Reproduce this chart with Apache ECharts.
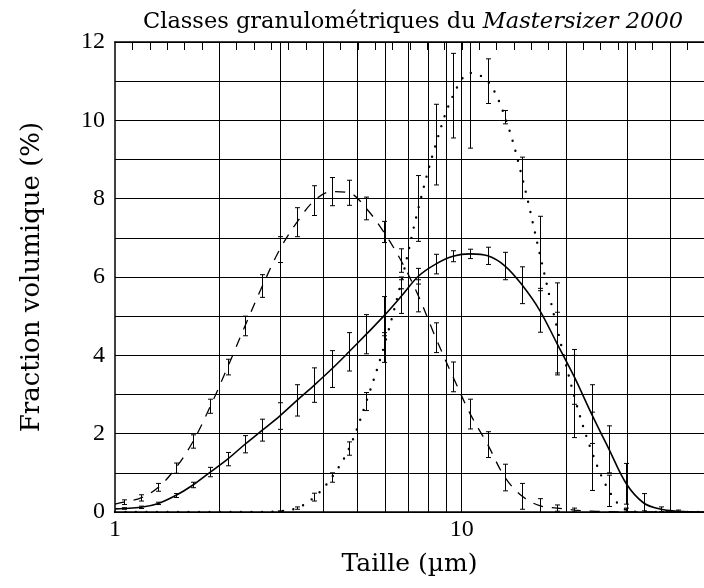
<!DOCTYPE html>
<html>
<head>
<meta charset="utf-8">
<script src="https://cdn.jsdelivr.net/npm/echarts@6/dist/echarts.min.js"></script>
<style>
  html, body { margin: 0; padding: 0; background: #fff; }
  #chart { width: 704px; height: 588px; }
</style>
</head>
<body>
<div id="chart"></div>
<script>
// Mastersizer 2000 size classes (µm): class centres and class boundaries
const classCentres = [1.059, 1.189, 1.334, 1.496, 1.679, 1.884, 2.113, 2.371, 2.661, 2.985,
  3.350, 3.758, 4.217, 4.732, 5.309, 5.957, 6.683, 7.499, 8.414, 9.441,
  10.59, 11.89, 13.34, 14.96, 16.79, 18.84, 21.13, 23.71, 26.61, 29.85,
  33.50, 37.58, 42.17, 47.32];
const classBounds = [1.125, 1.262, 1.416, 1.589, 1.783, 2.000, 2.244, 2.518, 2.825, 3.170,
  3.557, 3.991, 4.477, 5.024, 5.637, 6.325, 7.096, 7.962, 8.934, 10.024,
  11.247, 12.619, 14.159, 15.887, 17.825, 20.000, 22.440, 25.179, 28.251, 31.698,
  35.566, 39.905, 44.774];

// volume fraction (%) per class, with the half-width of each error bar
const dashedValues = [0.25, 0.36, 0.63, 1.12, 1.80, 2.70, 3.70, 4.75, 5.77, 6.70,
  7.40, 7.95, 8.18, 8.15, 7.75, 7.15, 6.42, 5.52, 4.45, 3.45,
  2.50, 1.72, 0.88, 0.40, 0.16, 0.10, 0.05, 0.02, 0.01, 0,
  0, 0, 0, 0];
const dashedErrors = [0.06, 0.08, 0.10, 0.13, 0.17, 0.18, 0.20, 0.25, 0.29, 0.33,
  0.37, 0.38, 0.36, 0.32, 0.29, 0.27, 0.30, 0.41, 0.38, 0.38,
  0.38, 0.33, 0.34, 0.33, 0.18, 0.08, 0.05, 0, 0, 0,
  0, 0, 0, 0];
const solidValues = [0.09, 0.12, 0.22, 0.42, 0.69, 1.02, 1.35, 1.73, 2.09, 2.45,
  2.85, 3.24, 3.65, 4.09, 4.54, 5.00, 5.50, 6.02, 6.33, 6.53,
  6.59, 6.54, 6.28, 5.79, 5.15, 4.30, 3.45, 2.50, 1.60, 0.72,
  0.23, 0.07, 0.02, 0];
const solidErrors = [0.02, 0.03, 0.03, 0.05, 0.07, 0.12, 0.17, 0.22, 0.28, 0.34,
  0.40, 0.44, 0.47, 0.49, 0.50, 0.50, 0.43, 0.20, 0.25, 0.14,
  0.12, 0.22, 0.35, 0.47, 0.56, 0.80, 0.70, 0.75, 0.60, 0.52,
  0.24, 0.06, 0.03, 0];
const dottedValues = [0, 0, 0, 0, 0, 0, 0, 0, 0, 0.02,
  0.10, 0.38, 0.88, 1.62, 2.82, 4.20, 5.85, 7.75, 9.38, 10.63,
  11.21, 11.00, 10.08, 8.53, 6.60, 4.70, 2.95, 1.55, 0.54, 0.05,
  0, 0, 0, 0];
const dottedErrors = [0, 0, 0, 0, 0, 0, 0, 0, 0, 0.01,
  0.03, 0.10, 0.12, 0.17, 0.23, 0.38, 0.15, 0.84, 1.03, 1.08,
  1.92, 0.57, 0.17, 0.53, 0.95, 1.15, 1.05, 1.00, 0.40, 0.05,
  0.03, 0, 0, 0];
// curve values at the left edge of the axis (1 µm)
const dashedStart = 0.20;
const solidStart = 0.08;
const dottedStart = 0;

// axes
const xMin = 1;
const xMax = 50;
const xLabelValues = [1, 10];
const xGridValues = [2, 3, 4, 5, 6, 7, 8, 9, 10, 20, 30, 40];
const yMax = 12;
const yLabelValues = [0, 2, 4, 6, 8, 10, 12];

const lg = Math.log10;
const serif = 'DejaVu Serif';
const numFont = 'Liberation Serif';

function curve(values, start) {
  const pts = [[lg(xMin), start]];
  classCentres.forEach((c, i) => pts.push([lg(c), values[i]]));
  pts.push([lg(xMax), 0]);
  return pts;
}
function bars(values, errors) {
  const out = [];
  classCentres.forEach((c, i) => {
    if (errors[i] > 0) out.push([lg(c), values[i] - errors[i], values[i] + errors[i]]);
  });
  return out;
}

function renderErrorBar(params, api) {
  const x = api.value(0);
  const lo = api.coord([x, api.value(1)]);
  const hi = api.coord([x, api.value(2)]);
  const cs = params.coordSys;
  const px = Math.round(lo[0]) + 0.5;
  const top = Math.max(hi[1], cs.y);
  const bottom = Math.min(lo[1], cs.y + cs.height);
  const stroke = { stroke: '#000', lineWidth: 1 };
  const cap = 2.5;
  const children = [{ type: 'line', shape: { x1: px, y1: top, x2: px, y2: bottom }, style: stroke }];
  if (hi[1] >= cs.y) children.push({ type: 'line', shape: { x1: px - cap, y1: hi[1], x2: px + cap, y2: hi[1] }, style: stroke });
  if (lo[1] <= cs.y + cs.height) children.push({ type: 'line', shape: { x1: px - cap, y1: lo[1], x2: px + cap, y2: lo[1] }, style: stroke });
  return { type: 'group', children };
}

function barSeries(name, data) {
  return {
    name, type: 'custom', xAxisIndex: 0, yAxisIndex: 0,
    renderItem: renderErrorBar, data, z: 4,
    encode: { x: 0, y: [1, 2] }, silent: true
  };
}
function lineSeries(name, data, style) {
  return {
    name, type: 'line', data, showSymbol: false, smooth: 0.35,
    lineStyle: Object.assign({ color: '#000' }, style), z: 5, silent: true
  };
}

const chart = echarts.init(document.getElementById('chart'), null, { renderer: 'canvas' });
chart.setOption({
  animation: false,
  backgroundColor: '#fff',
  title: {
    text: '{a|Classes granulométriques du }{b|Mastersizer 2000}',
    left: 408, top: 6, textAlign: 'center',
    textStyle: {
      fontWeight: 'normal',
      rich: {
        a: { fontFamily: serif, fontSize: 22.5, fontWeight: 'normal', color: '#000' },
        b: { fontFamily: serif, fontSize: 22.5, fontWeight: 'normal', fontStyle: 'italic', color: '#000' }
      }
    }
  },
  grid: { left: 115, top: 42, right: -5, bottom: 76, containLabel: false },
  xAxis: [
    {
      type: 'value', position: 'bottom', min: lg(xMin), max: lg(xMax),
      name: 'Taille (µm)', nameLocation: 'middle', nameGap: 40,
      nameTextStyle: { fontFamily: serif, fontSize: 25, color: '#000' },
      axisLine: { show: true, onZero: false, lineStyle: { color: '#000', width: 1.5 } },
      axisTick: { show: false, customValues: xGridValues.map(lg) },
      axisLabel: {
        customValues: xLabelValues.map(lg), margin: 6,
        formatter: v => String(Math.round(Math.pow(10, v))),
        fontFamily: numFont, fontSize: 24, color: '#000'
      },
      splitLine: { show: true, lineStyle: { color: '#000', width: 1 } }
    },
    {
      type: 'value', position: 'top', min: lg(xMin), max: lg(xMax),
      axisLine: { show: true, onZero: false, lineStyle: { color: '#000', width: 1.5 } },
      axisTick: { show: true, inside: true, length: 8, customValues: classBounds.map(lg), lineStyle: { color: '#000', width: 1 } },
      axisLabel: { show: false },
      splitLine: { show: false }
    }
  ],
  yAxis: {
    type: 'value', min: 0, max: yMax, interval: 1,
    name: 'Fraction volumique (%)', nameLocation: 'middle', nameGap: 70, nameRotate: 90,
    nameTextStyle: { fontFamily: serif, fontSize: 26, color: '#000' },
    axisLine: { show: true, onZero: false, lineStyle: { color: '#000', width: 1.5 } },
    axisTick: { show: false },
    axisLabel: {
      margin: 10, fontFamily: numFont, fontSize: 24, color: '#000',
      formatter: v => (yLabelValues.indexOf(v) >= 0 ? String(v) : '')
    },
    splitLine: { show: true, lineStyle: { color: '#000', width: 1 } }
  },
  series: [
    lineSeries('dashed', curve(dashedValues, dashedStart), { width: 1.3, type: [10, 9] }),
    lineSeries('solid', curve(solidValues, solidStart), { width: 1.6 }),
    lineSeries('dotted', curve(dottedValues, dottedStart), { width: 2.4, type: [0, 10.5], cap: 'round' }),
    barSeries('dashed-err', bars(dashedValues, dashedErrors)),
    barSeries('solid-err', bars(solidValues, solidErrors)),
    barSeries('dotted-err', bars(dottedValues, dottedErrors))
  ]
});
</script>
</body>
</html>
